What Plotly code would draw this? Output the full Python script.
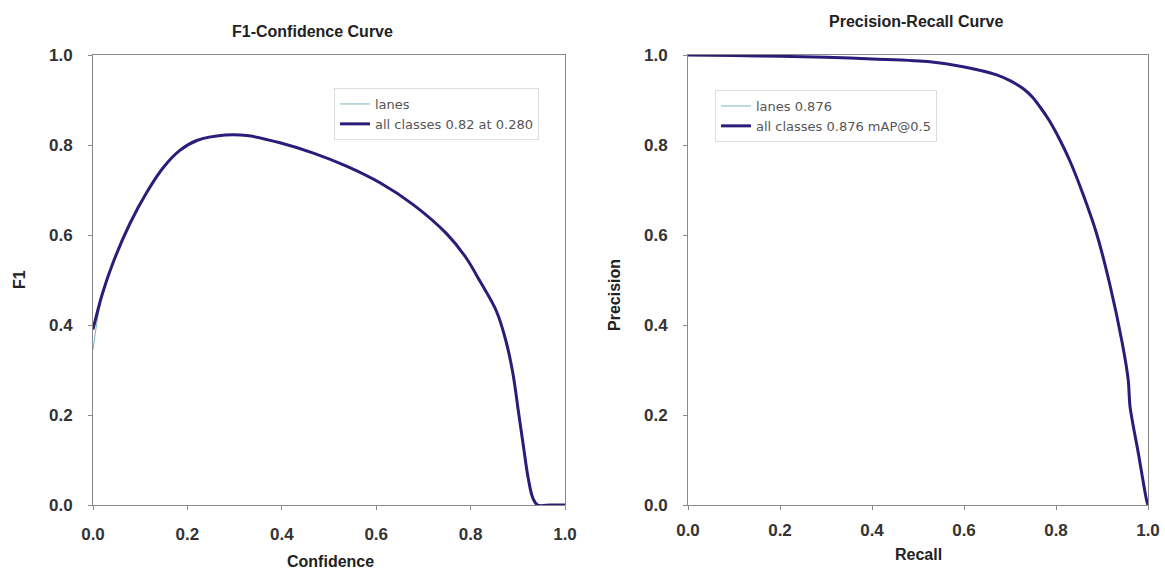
import plotly.graph_objects as go

# ---------------- data ----------------
conf = [0.0, 0.02, 0.043, 0.078, 0.114, 0.149, 0.184, 0.22, 0.28, 0.326, 0.396, 0.467,
        0.537, 0.608, 0.679, 0.749, 0.79, 0.82, 0.855, 0.876, 0.89, 0.901, 0.912,
        0.922, 0.932, 0.942, 0.97, 1.0]
f1_all = [0.39, 0.47, 0.54, 0.625, 0.695, 0.75, 0.788, 0.81, 0.822, 0.821, 0.805, 0.782,
          0.753, 0.716, 0.667, 0.603, 0.55, 0.497, 0.43, 0.36, 0.29, 0.21, 0.13,
          0.06, 0.015, 0.0, 0.0, 0.0]
f1_lanes = [0.345, 0.47, 0.54, 0.625, 0.695, 0.75, 0.788, 0.81, 0.822, 0.821, 0.805, 0.782,
            0.753, 0.716, 0.667, 0.603, 0.55, 0.497, 0.43, 0.36, 0.29, 0.21, 0.13,
            0.06, 0.015, 0.0, 0.0, 0.0]

recall = [0.0, 0.1, 0.2, 0.3, 0.4, 0.526, 0.598, 0.671, 0.7, 0.729, 0.75, 0.765, 0.785,
          0.801, 0.83, 0.859, 0.888, 0.917, 0.944, 0.957, 0.961, 0.979, 0.997, 1.0]
precision = [1.0, 0.999, 0.997, 0.995, 0.991, 0.985, 0.974, 0.956, 0.943, 0.925, 0.905,
             0.885, 0.855, 0.826, 0.765, 0.69, 0.604, 0.49, 0.36, 0.278, 0.218, 0.115,
             0.01, 0.0]

tick_vals = [0.0, 0.2, 0.4, 0.6, 0.8, 1.0]
tick_text = ["0.0", "0.2", "0.4", "0.6", "0.8", "1.0"]

lbl_f1_lanes = "lanes"
lbl_f1_all = "all classes 0.82 at 0.280"
lbl_pr_lanes = "lanes 0.876"
lbl_pr_all = "all classes 0.876 mAP@0.5"

# ---------------- style ----------------
W, H = 1165, 571
C_ALL = "#2a1c78"
C_LANE = "#7ab8bb"
AX = "#8a8a8a"
TXT = "#333333"
BOLD = "Liberation Sans, Arial, sans-serif"

fig = go.Figure()
fig.add_trace(go.Scatter(x=conf, y=f1_lanes, mode="lines", name=lbl_f1_lanes,
                         line=dict(color=C_LANE, width=1, shape="spline", smoothing=1.0),
                         xaxis="x", yaxis="y", legend="legend"))
fig.add_trace(go.Scatter(x=conf, y=f1_all, mode="lines", name=lbl_f1_all,
                         line=dict(color=C_ALL, width=3, shape="spline", smoothing=1.0),
                         xaxis="x", yaxis="y", legend="legend"))
fig.add_trace(go.Scatter(x=recall, y=precision, mode="lines", name=lbl_pr_lanes,
                         line=dict(color=C_LANE, width=1, shape="spline", smoothing=0.8),
                         xaxis="x2", yaxis="y2", legend="legend2"))
fig.add_trace(go.Scatter(x=recall, y=precision, mode="lines", name=lbl_pr_all,
                         line=dict(color=C_ALL, width=3, shape="spline", smoothing=0.8),
                         xaxis="x2", yaxis="y2", legend="legend2"))

def px_x(p):
    return p / W

def px_y(p):
    return 1 - p / H

axis_common = dict(range=[0, 1], showgrid=False, zeroline=False, showline=True,
                   linecolor=AX, linewidth=1, mirror=True, ticks="outside",
                   ticklen=4, tickcolor=AX, tickvals=tick_vals, ticktext=tick_text,
                   automargin=False,
                   tickfont=dict(family=BOLD, size=17, color=TXT, weight="bold"))

ydom = [px_y(505), px_y(55)]

fig.update_layout(
    width=W, height=H,
    margin=dict(l=0, r=0, t=0, b=0, pad=0, autoexpand=False),
    paper_bgcolor="white", plot_bgcolor="white",
    xaxis=dict(domain=[px_x(93), px_x(565)], anchor="y", ticklabelstandoff=10, **axis_common),
    yaxis=dict(domain=ydom, anchor="x", ticklabelstandoff=12, **axis_common),
    xaxis2=dict(domain=[px_x(688), px_x(1148)], anchor="y2", ticklabelstandoff=6, **axis_common),
    yaxis2=dict(domain=ydom, anchor="x2", ticklabelstandoff=12, **axis_common),
    legend=dict(x=px_x(334), y=px_y(88), xanchor="left", yanchor="top",
                bgcolor="white", bordercolor="#dddddd", borderwidth=1,
                font=dict(family="DejaVu Sans", size=13, color="#555555"),
                tracegroupgap=0, itemwidth=30),
    legend2=dict(x=px_x(715), y=px_y(90), xanchor="left", yanchor="top",
                 bgcolor="white", bordercolor="#dddddd", borderwidth=1,
                 font=dict(family="DejaVu Sans", size=13, color="#555555"),
                 tracegroupgap=0, itemwidth=30),
)

def ann(text, x, y, size, angle=0):
    fig.add_annotation(text=text, x=px_x(x), y=px_y(y), xref="paper", yref="paper",
                       xanchor="center", yanchor="middle", showarrow=False,
                       textangle=angle,
                       font=dict(family=BOLD, size=size, color="#222222", weight="bold"))

ann("F1-Confidence Curve", 312, 31, 16)
ann("Precision-Recall Curve", 916, 22, 16)
ann("Confidence", 330, 561, 16)
ann("Recall", 918, 554, 16)
ann("F1", 20, 280, 16, -90)
ann("Precision", 614, 295, 16, -90)

fig.write_html("out.html")
